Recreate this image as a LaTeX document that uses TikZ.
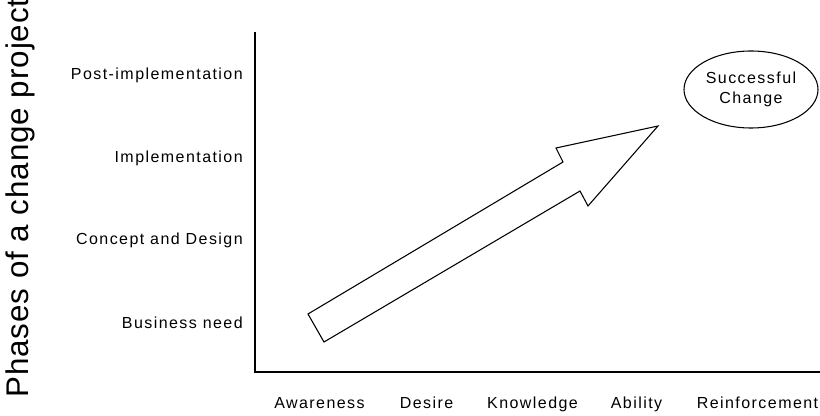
\documentclass[tikz,border=0pt]{standalone}
\usepackage{amsmath}
\usepackage{fontspec}
\usepackage{tikz}
\usetikzlibrary{shapes.geometric}
\newfontfamily\labelfont[LetterSpace=9]{Liberation Sans}
\newfontfamily\titlefont[LetterSpace=3]{Liberation Sans}

\begin{document}
\begin{tikzpicture}[x=0.75pt,y=0.75pt,yscale=-1,xscale=1,
  phase/.style={anchor=base east,inner sep=0.75pt,font=\labelfont\fontsize{12}{14}\selectfont},
  stage/.style={anchor=base,inner sep=0.75pt,font=\labelfont\fontsize{12}{14}\selectfont}]
\useasboundingbox (0,0) rectangle (820,416);

%Straight Lines: axes
\coordinate (top) at (255,32);
\coordinate (origin) at (255,372);
\coordinate (right) at (820,372);
\draw [line width=1.1]  (top) -- (origin) -- (right) ;

%Shape: Right Arrow
\draw  [line width=0.8]  (308,314) -- (563,162) -- (556,148) -- (658,126) -- (588,206) -- (580,191) -- (324,342) -- cycle ;

%Shape: Ellipse
\node [draw,ellipse,line width=0.8,minimum width=100.5pt,minimum height=57.75pt,inner sep=0pt,align=center,
  font=\labelfont\fontsize{12}{15}\selectfont] (goal) at (751,89.5) {Successful\\Change};

% Text Node
\node [rotate=90,inner sep=0pt,font=\titlefont\fontsize{23.5}{26}\selectfont] (title) at (20,198) {Phases of a change project};

% Text Node
\node [phase] (post) at (244,80) {Post-implementation};
% Text Node
\node [phase] (impl) at (244,163) {Implementation};
% Text Node
\node [phase] (concept) at (244,245) {Concept and Design};
% Text Node
\node [phase] (need) at (244,329) {Business need};

% Text Node
\node [stage] (aware) at (319.5,408) {Awareness};
% Text Node
\node [stage] (desire) at (426.5,408) {Desire};
% Text Node
\node [stage] (know) at (532.5,408) {Knowledge};
% Text Node
\node [stage] (able) at (636.5,408) {Ability};
% Text Node
\node [stage] (reinf) at (757.5,408) {Reinforcement};

\end{tikzpicture}
\end{document}
